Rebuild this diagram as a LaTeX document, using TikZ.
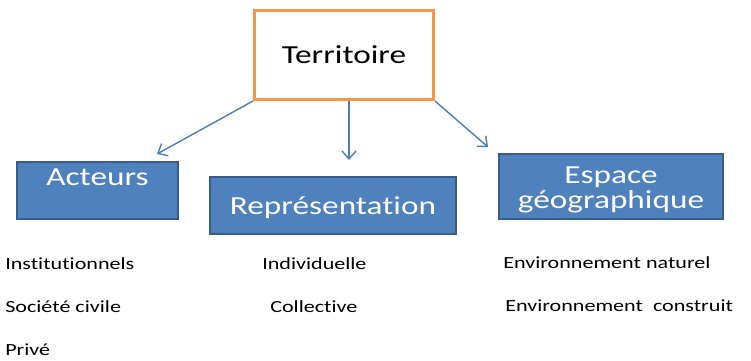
\documentclass[tikz,border=0pt]{standalone}
\usepackage{fontspec}
\setmainfont{Carlito}[RawFeature=-liga]
\usepackage{graphicx}
\usetikzlibrary{arrows.meta}
\definecolor{terrorange}{RGB}{247,150,70}
\definecolor{boxblue}{RGB}{79,129,189}
\definecolor{boxborder}{RGB}{56,93,138}
\definecolor{arrowblue}{RGB}{74,126,187}
\newcommand{\wide}[1]{\scalebox{1.28}[1]{#1}}

\begin{document}
\begin{tikzpicture}[x=1pt, y=-1pt]
    \tikzstyle{topbox} = [rectangle, draw=terrorange, line width=3pt, fill=white, minimum width=179pt, minimum height=89pt, inner sep=0pt, text height=17pt, text depth=0pt, font=\fontsize{26}{30}\selectfont]
    \tikzstyle{bluebox} = [rectangle, draw=boxborder, line width=2.2pt, fill=boxblue, text=white, inner sep=0pt, align=center, font=\fontsize{26}{25}\selectfont]
    \tikzstyle{item} = [anchor=base west, inner sep=0pt, xscale=1.3, font=\fontsize{17}{20}\selectfont]
    \tikzstyle{link} = [draw=arrowblue, line width=1.4pt, -{Straight Barb[length=8pt, width=14pt]}]

    \useasboundingbox (0,0) rectangle (751,360);

    % Territoire
    \node [topbox] (territoire) at (344,55) {\wide{Territoire}};

    % Blue boxes
    \node [bluebox, minimum width=161pt, minimum height=57pt, text height=18pt, text depth=29pt] (acteurs) at (97.5,190.5) {\wide{Acteurs}};
    \node [bluebox, minimum width=246pt, minimum height=57pt, text height=17pt, text depth=0pt] (representation) at (333,205.5) {\wide{Représentation}};
    \node [bluebox, minimum width=224pt, minimum height=65pt, text height=43pt, text depth=0pt] (espace) at (611,186.5) {\wide{Espace}\\\wide{géographique}};

    % Arrow tips
    \coordinate (acttip) at (157,154);
    \coordinate (reptip) at (349,160);
    \coordinate (esptip) at (488,147);

    % Connections
    \draw [link] (territoire.south west) -- (acttip);
    \draw [link] ([xshift=5pt]territoire.south) -- (reptip);
    \draw [link] (territoire.south east) -- (esptip);

    % Items
    \node [item] (institutionnels) at (5,269) {Institutionnels};
    \node [item] (societe) at (5,312) {Société civile};
    \node [item] (prive) at (5,355) {Privé};
    \node [item] (individuelle) at (262,269) {Individuelle};
    \node [item] (collective) at (270,312) {Collective};
    \node [item] (naturel) at (503,268) {Environnement naturel};
    \node [item] (construit) at (505,311) {Environnement\ \ construit};
\end{tikzpicture}
\end{document}
